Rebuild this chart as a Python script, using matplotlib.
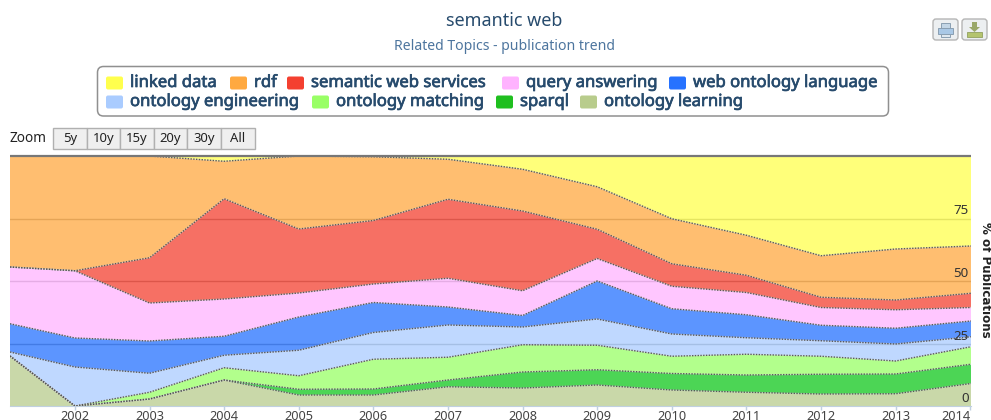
import numpy as np
import matplotlib
matplotlib.use("Agg")
import matplotlib.pyplot as plt
import matplotlib.patheffects as pe
from matplotlib.patches import FancyBboxPatch, Rectangle, Polygon

# first point is where the zoomed range starts, between 2001 and 2002
years = [2001.13, 2002, 2003, 2004, 2005, 2006, 2007, 2008, 2009, 2010, 2011, 2012, 2013, 2014.01]
tick_years = [2002, 2003, 2004, 2005, 2006, 2007, 2008, 2009, 2010, 2011, 2012, 2013, 2014]
y_ticks = [0, 25, 50, 75]

# % of publications, bottom layer first
ontology_learning = [20.0, 0, 2.8, 10.4, 4.4, 4.4, 7.7, 7.2, 8.4, 6.4, 5.5, 4.8, 4.9, 9.0]
sparql = [0, 0, 0, 0, 2.3, 2.4, 2.7, 6.4, 6.1, 6.6, 6.9, 7.9, 7.9, 7.7]
ontology_matching = [0, 0, 2.7, 4.9, 5.4, 11.9, 9.1, 10.9, 9.8, 6.9, 8.3, 7.2, 5.2, 7.0]
ontology_engineering = [1.6, 15.6, 7.6, 5.0, 10.2, 10.7, 12.9, 7.1, 10.5, 8.9, 6.6, 6.2, 6.8, 4.0]
web_ontology_language = [11.3, 11.6, 12.9, 7.6, 13.3, 12.0, 7.2, 4.6, 15.2, 10.1, 9.2, 6.2, 6.3, 6.3]
query_answering = [22.7, 26.9, 15.2, 14.9, 9.6, 7.4, 11.5, 9.9, 9.0, 9.0, 8.9, 7.1, 7.4, 5.4]
semantic_web_services = [0, 0, 18.1, 40.1, 25.6, 25.4, 31.6, 31.9, 11.7, 9.0, 6.9, 4.1, 3.9, 5.7]
rdf = [44.4, 45.9, 40.7, 15.0, 29.2, 25.5, 16.0, 16.7, 17.0, 18.0, 16.0, 16.6, 20.4, 18.9]
linked_data = [0, 0, 0, 2.1, 0, 0.3, 1.3, 5.3, 12.3, 25.1, 31.7, 39.9, 37.2, 36.0]

series = [ontology_learning, sparql, ontology_matching, ontology_engineering,
          web_ontology_language, query_answering, semantic_web_services, rdf, linked_data]
colors = ["#B8CC8C", "#10C81C", "#99FF66", "#AACCFF", "#2672FF",
          "#FFB3FF", "#F44030", "#FFA940", "#FFFF4D"]

TITLE = "#274b6d"
SUB = "#4d759e"
W, H = 991, 420

plt.rcParams["font.family"] = ["Noto Sans", "DejaVu Sans"]
fig = plt.figure(figsize=(W / 100, H / 100), dpi=100)

# plot area: x 10-971, y 156-406 px
ax = fig.add_axes([10 / W, 1 - 406 / H, 961 / W, 250 / H])
ax.set_xlim(years[0], years[-1])
ax.set_ylim(0, 100)
for v in y_ticks[1:]:
    ax.axhline(v, color="#999999", lw=1, zorder=1)
ax.stackplot(years, *series, colors=colors, alpha=0.75, lw=0, zorder=2)
tops = np.cumsum(series, axis=0)
for top in tops[:-1]:
    ax.plot(years, top, color="#d8d8d8", lw=1.0, alpha=0.5, zorder=4)
    ax.plot(years, top, color="#444444", lw=1.0, ls=(0, (1, 1)), alpha=0.85, zorder=4)
for s in ["left", "right", "top"]:
    ax.spines[s].set_visible(False)
ax.spines["bottom"].set_color("#C0D0E0")
ax.set_xticks(tick_years)
ax.set_xticklabels([str(y) for y in tick_years], fontsize=9.2, color="#444444")
ax.get_xticklabels()[-1].set_ha("right")
ax.tick_params(axis="x", length=3, width=1, color="#C0D0E0", pad=0)
ax.set_yticks([])
for v in y_ticks:
    ax.text(0.9975, v + 3 if v else 3, str(v), transform=ax.get_yaxis_transform(),
            ha="right", va="center", fontsize=9.6, color="#333333", zorder=5)

# everything around the plot, in pixel coordinates
ov = fig.add_axes([0, 0, 1, 1], zorder=10)
ov.set_xlim(0, W)
ov.set_ylim(H, 0)
ov.axis("off")

ov.plot([10, 971], [156, 156], color="#777777", lw=1.6, solid_capstyle="butt")

ov.text(504, 21, "semantic web", ha="center", va="center", fontsize=12.9, color=TITLE)
ov.text(504, 46.5, "Related Topics - publication trend", ha="center", va="center",
        fontsize=10.1, color=SUB)

# legend
ov.add_patch(FancyBboxPatch((97.5, 66.5), 791, 49.5, boxstyle="round,pad=0,rounding_size=6",
                            fc="white", ec="#909090", lw=1.1))
legend_items = [
    ("linked data", "#FFFF4D", 106, 83), ("rdf", "#FFA940", 230, 83),
    ("semantic web services", "#F44030", 287, 83), ("query answering", "#FFB3FF", 502, 83),
    ("web ontology language", "#2672FF", 669, 83),
    ("ontology engineering", "#AACCFF", 106, 102), ("ontology matching", "#99FF66", 312, 102),
    ("sparql", "#1FBF1F", 496, 102), ("ontology learning", "#B8CC8C", 580, 102),
]
# the bold weight is not picked up for Noto Sans, a thin stroke does the same job
heavy = [pe.withStroke(linewidth=0.5, foreground=TITLE)]
for name, col, x, y in legend_items:
    ov.add_patch(FancyBboxPatch((x, y - 6.5), 17, 13, boxstyle="round,pad=0,rounding_size=2",
                                fc=col, ec="none"))
    ov.text(x + 24, y, name, ha="left", va="center", fontsize=12, color=TITLE, path_effects=heavy)

# zoom buttons
ov.text(10, 139, "Zoom", ha="left", va="center", fontsize=9.8, color="#222222")
zoom_labels = ["5y", "10y", "15y", "20y", "30y", "All"]
for i, lab in enumerate(zoom_labels):
    x0 = 53 + i * 33.6
    ov.add_patch(Rectangle((x0, 128), 33.6, 21, fc="#efefef", ec="#b0b0b0", lw=1))
    ov.text(x0 + 16.8, 138.5, lab, ha="center", va="center", fontsize=9.4, color="#222222")

# print / download buttons
for x0 in [933, 962]:
    ov.add_patch(FancyBboxPatch((x0, 19), 25, 21, boxstyle="round,pad=0,rounding_size=3",
                                fc="#eceff1", ec="#b5b5b5", lw=1))
ov.add_patch(Rectangle((941, 22.5), 9, 5, fc="#c3d6e6", ec="#8a9fb2", lw=0.7))
ov.add_patch(Rectangle((938, 27.5), 15, 6, fc="#a9c8e6", ec="#8a9fb2", lw=0.7))
ov.add_patch(Rectangle((941, 33.5), 9, 3.5, fc="#dfe8f0", ec="#8a9fb2", lw=0.7))
ov.add_patch(Polygon([(972, 22), (977, 22), (977, 27), (980, 27), (974.5, 32), (969, 27), (972, 27)],
                     fc="#9aa86a", ec="none"))
ov.add_patch(Rectangle((967, 32), 15, 5, fc="#b4c46e", ec="#9aa86a", lw=0.7))

ov.text(985.5, 280, "% of Publications", rotation=270, ha="center", va="center",
        fontsize=8.6, fontweight="bold", color="#222222", family=["DejaVu Sans"])

fig.savefig("out.png", dpi=100)
